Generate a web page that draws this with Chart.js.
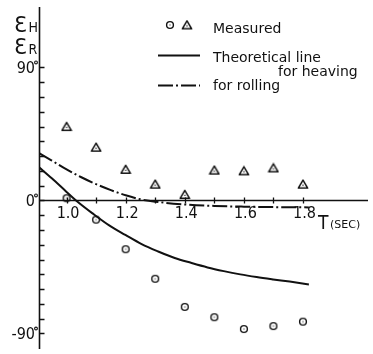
<!DOCTYPE html>
<html lang="en">
<head>
<meta charset="UTF-8">
<title>Phase lag of heaving and rolling</title>
<script src="https://cdn.jsdelivr.net/npm/chart.js"></script>
<style>
    html, body { margin: 0; padding: 0; background: #fff; }
    #wrap { width: 373px; height: 354px; }
</style>
</head>
<body>
<div id="wrap"><canvas id="phaseChart" width="373" height="354"></canvas></div>
<script>
// measured phase lags (deg) against period T (sec)
const periods = [1.0, 1.1, 1.2, 1.3, 1.4, 1.5, 1.6, 1.7, 1.8];
const heaveMeasured = [1.5, -13, -33, -53, -72, -79, -87, -85, -82];
const rollMeasured = [50, 36, 21, 11, 4, 20.5, 20, 22, 11];

// theoretical lines
const heaveTheoryT = [0.907, 0.95, 1.0, 1.032, 1.089, 1.143, 1.199, 1.254, 1.31, 1.366, 1.421, 1.477, 1.532, 1.588, 1.643, 1.699, 1.755, 1.82];
const heaveTheory = [22.5, 15, 5.8, 0, -8.9, -16.7, -23.3, -29.5, -34.5, -38.9, -42.2, -45.3, -47.8, -50, -51.8, -53.4, -54.9, -56.8];
const rollTheoryT = [0.907, 0.95, 1.0, 1.05, 1.1, 1.15, 1.2, 1.25, 1.3, 1.4, 1.5, 1.6, 1.7, 1.82];
const rollTheory = [32, 27, 21, 15.7, 11, 7, 3.5, 0.8, -0.8, -2.7, -3.7, -4.2, -4.5, -4.7];

// axis ticks and labels
const xTicks = [1.0, 1.1, 1.2, 1.3, 1.4, 1.5, 1.6, 1.7, 1.8];
const xLabelValues = [1.0, 1.2, 1.4, 1.6, 1.8];
const xLabels = ['1.0', '1.2', '1.4', '1.6', '1.8'];
const yTicks = [-90, -80, -70, -60, -50, -40, -30, -20, -10, 0, 10, 20, 30, 40, 50, 60, 70, 80, 90];
const yLabelValues = [90, 0, -90];
const yLabels = ['90', '0', '-90'];

const INK = '#111';

function pairs(xs, ys) {
    return xs.map((x, i) => ({ x: x, y: ys[i] }));
}

// small marker glyphs: dotted circle and dotted triangle
function circleMark() {
    const c = document.createElement('canvas');
    c.width = 10; c.height = 10;
    const g = c.getContext('2d');
    g.strokeStyle = INK; g.lineWidth = 1.4;
    g.beginPath(); g.arc(5, 5, 3.4, 0, Math.PI * 2); g.stroke();
    g.fillStyle = INK; g.fillRect(4.5, 4.5, 1, 1);
    return c;
}
function triangleMark() {
    const c = document.createElement('canvas');
    c.width = 12; c.height = 11;
    const g = c.getContext('2d');
    g.strokeStyle = INK; g.lineWidth = 1.5; g.lineJoin = 'round';
    g.beginPath(); g.moveTo(6, 1.3); g.lineTo(10.7, 9.3); g.lineTo(1.3, 9.3); g.closePath(); g.stroke();
    g.fillStyle = INK; g.fillRect(5.4, 5.8, 1.2, 1.2);
    return c;
}
const circleImg = circleMark();
const triangleImg = triangleMark();

const ROLL_DASH = [15, 3, 2, 3];

const axesPlugin = {
    id: 'axes',
    beforeDatasetsDraw(chart) {
        const ctx = chart.ctx;
        const xs = chart.scales.x, ys = chart.scales.y;
        const area = chart.chartArea;
        const ax = area.left + 0.5;
        const y0 = Math.round(ys.getPixelForValue(0)) + 0.5;
        ctx.save();
        ctx.strokeStyle = INK;
        ctx.lineWidth = 1.6;
        ctx.beginPath();
        ctx.moveTo(ax, area.top); ctx.lineTo(ax, area.bottom);
        ctx.moveTo(ax, y0); ctx.lineTo(area.right, y0);
        ctx.stroke();
        ctx.lineWidth = 1.3;
        ctx.beginPath();
        yTicks.forEach(v => {
            const py = Math.round(ys.getPixelForValue(v)) + 0.5;
            ctx.moveTo(ax, py); ctx.lineTo(ax + 5, py);
        });
        xTicks.forEach(v => {
            const px = Math.round(xs.getPixelForValue(v)) + 0.5;
            ctx.moveTo(px, y0 - 3); ctx.lineTo(px, y0 + 3);
        });
        ctx.stroke();
        ctx.restore();
    },
    afterDraw(chart) {
        const ctx = chart.ctx;
        const xs = chart.scales.x, ys = chart.scales.y;
        const y0 = ys.getPixelForValue(0);
        ctx.save();
        ctx.fillStyle = INK;
        ctx.textBaseline = 'middle';

        // x tick labels
        ctx.font = '16px "Liberation Sans Narrow", "DejaVu Sans Condensed", sans-serif';
        ctx.textAlign = 'center';
        xLabelValues.forEach((v, i) => {
            ctx.fillText(xLabels[i], xs.getPixelForValue(v) + 1.5, y0 + 13);
        });

        // y tick labels with degree mark
        ctx.textAlign = 'right';
        yLabelValues.forEach((v, i) => {
            const py = ys.getPixelForValue(v);
            ctx.font = '16px "Liberation Sans Narrow", "DejaVu Sans Condensed", sans-serif';
            ctx.fillText(yLabels[i], 35, py + 1);
            ctx.beginPath();
            ctx.arc(36, py - 5, 1.4, 0, Math.PI * 2);
            ctx.lineWidth = 1.1; ctx.strokeStyle = INK; ctx.stroke();
        });

        // axis titles
        ctx.textAlign = 'left';
        ctx.textBaseline = 'alphabetic';
        ctx.font = '21px "DejaVu Sans", sans-serif';
        ctx.fillText('Ɛ', 14, 32);
        ctx.fillText('Ɛ', 14, 54);
        ctx.font = '14px "DejaVu Sans Condensed", "DejaVu Sans", sans-serif';
        ctx.fillText('H', 28.5, 32);
        ctx.fillText('R', 28.5, 54);

        ctx.font = '19px "DejaVu Sans Condensed", "DejaVu Sans", sans-serif';
        ctx.fillText('T', 318, 229);
        ctx.font = '11px "DejaVu Sans", sans-serif';
        ctx.fillText('(SEC)', 330, 228);

        // legend
        ctx.drawImage(circleImg, 170 - 5, 25 - 5);
        ctx.drawImage(triangleImg, 187 - 6, 25 - 5.5);
        ctx.font = '14px "DejaVu Sans", sans-serif';
        ctx.fillText('Measured', 213, 33);
        ctx.fillText('Theoretical line', 213, 62);
        ctx.fillText('for heaving', 278, 76);
        ctx.fillText('for rolling', 213, 90);

        ctx.strokeStyle = INK;
        ctx.lineWidth = 1.8;
        ctx.beginPath(); ctx.moveTo(158, 55.5); ctx.lineTo(200, 55.5); ctx.stroke();
        ctx.setLineDash(ROLL_DASH);
        ctx.beginPath(); ctx.moveTo(158, 85.5); ctx.lineTo(200, 85.5); ctx.stroke();
        ctx.restore();
    }
};

new Chart(document.getElementById('phaseChart'), {
    type: 'scatter',
    data: {
        datasets: [
            {
                label: 'Theoretical line for heaving',
                data: pairs(heaveTheoryT, heaveTheory),
                showLine: true,
                borderColor: INK,
                borderWidth: 2,
                pointRadius: 0,
                cubicInterpolationMode: 'monotone'
            },
            {
                label: 'for rolling',
                data: pairs(rollTheoryT, rollTheory),
                showLine: true,
                borderColor: INK,
                borderWidth: 2,
                borderDash: ROLL_DASH,
                pointRadius: 0,
                cubicInterpolationMode: 'monotone'
            },
            {
                label: 'Measured heaving',
                data: pairs(periods, heaveMeasured),
                pointStyle: circleImg
            },
            {
                label: 'Measured rolling',
                data: pairs(periods, rollMeasured),
                pointStyle: triangleImg
            }
        ]
    },
    options: {
        responsive: false,
        animation: false,
        devicePixelRatio: 1,
        layout: { padding: { left: 39, top: 7, right: 0, bottom: 0 } },
        plugins: {
            legend: { display: false },
            tooltip: { enabled: false }
        },
        scales: {
            x: { type: 'linear', display: false, min: 0.9067, max: 2.02 },
            y: { type: 'linear', display: false, min: -100.5, max: 130.9 }
        }
    },
    plugins: [axesPlugin]
});
</script>
</body>
</html>
